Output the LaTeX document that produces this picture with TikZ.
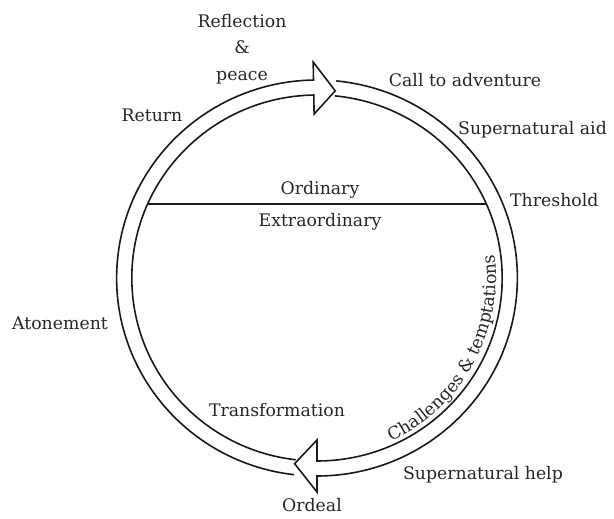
\documentclass[tikz,border=0pt]{standalone}
\usepackage{fontspec}
\setmainfont{DejaVu Serif}
\usetikzlibrary{decorations.text,calc}
\newcommand\labfont{\fontsize{17.3pt}{26.5pt}\selectfont}
\tikzset{
  band/.style={draw=black!90, line width=1.6pt},
  divider/.style={draw=black!90, line width=1.3pt},
  lab/.style={font=\labfont, text=black!85, inner sep=0pt, text height=12.5pt, text depth=4pt},
}
\begin{document}
\begin{tikzpicture}[x=1pt,y=1pt]
\useasboundingbox (0,0) rectangle (614,519);
\coordinate (C) at (317,241);
% ring bands with arrowheads
\begin{scope}[shift={(C)}, xscale=1.012]
  \draw[band] (263.4:198) arc[start angle=263.4, end angle=91, radius=198]
     -- (91:216) -- (84.5:188) -- (91:164) -- (91:183)
     arc[start angle=91, end angle=263.4, radius=183];
  \draw[band] (84.5:198) arc[start angle=84.5, end angle=-90, radius=198]
     -- (-90:214) -- (-96.8:187) -- (-90:162) -- (-90:183)
     arc[start angle=-90, end angle=84.5, radius=183];
  \coordinate (L) at (156.15:183);
  \coordinate (R) at (23.85:183);
\end{scope}
\draw[divider] (L) -- (R);
% curved label
\path[decorate, decoration={text along path, text align=center,
  text={|\labfont\color{black!85}|Challenges {\&} temptations}}]
  ($(C)+(-74:179)$) arc[start angle=-74, end angle=16, radius=179];
% labels
\node[lab, align=center, text height=, text depth=] (refl) at (242,470) {Reflection\\\&\\peace};
\node[lab] (ret) at (152,402) {Return};
\node[lab] (call) at (465,437) {Call to adventure};
\node[lab, anchor=west] (aid) at (458,389) {Supernatural aid};
\node[lab] (ord) at (320,329) {Ordinary};
\node[lab] (extra) at (320,297) {Extraordinary};
\node[lab, anchor=west] (thr) at (510,317) {Threshold};
\node[lab] (aton) at (60,194) {Atonement};
\node[lab] (trans) at (277,107) {Transformation};
\node[lab] (help) at (483,44) {Supernatural help};
\node[lab] (ordeal) at (312,12) {Ordeal};
\end{tikzpicture}
\end{document}
